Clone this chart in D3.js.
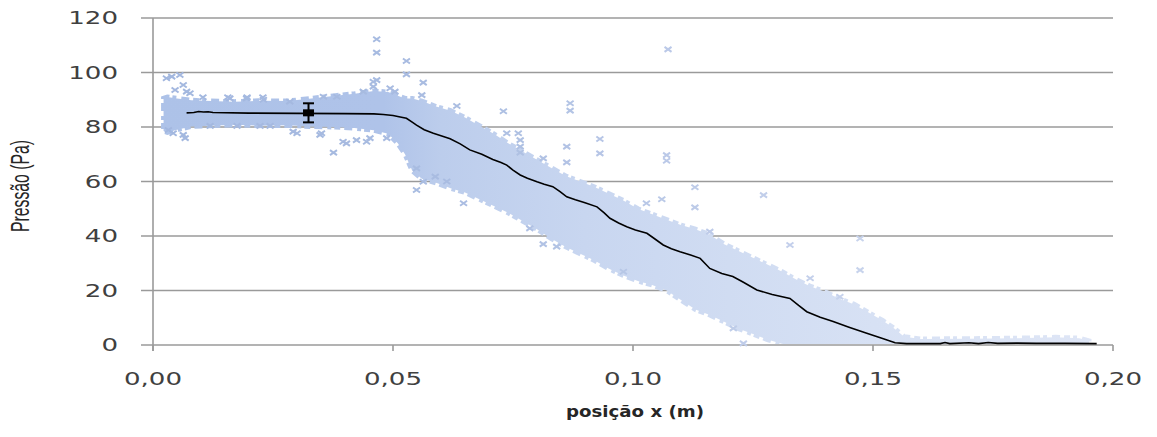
<!DOCTYPE html>
<html>
<head>
<meta charset="utf-8">
<script src="https://cdn.jsdelivr.net/npm/d3@7"></script>
<style>
  html, body { margin: 0; padding: 0; background: #ffffff; }
  svg { display: block; }
</style>
</head>
<body>
<svg id="chart" width="1157" height="437"></svg>
<script>
// Axis ticks
const xTicks = [0, 0.05, 0.10, 0.15, 0.20];
const yTicks = [0, 20, 40, 60, 80, 100, 120];

// Mean pressure profile along x (m) -> Pa
const meanX = [0.0070, 0.0085, 0.0095, 0.0105, 0.0115, 0.0125, 0.0200, 0.0300, 0.0400, 0.0460,
  0.0480, 0.0500, 0.0515, 0.0528, 0.0540, 0.0549, 0.0565, 0.0584, 0.0600, 0.0619,
  0.0640, 0.0660, 0.0685, 0.0708, 0.0725, 0.0737, 0.0750, 0.0765, 0.0780, 0.0800,
  0.0815, 0.0833, 0.0848, 0.0862, 0.0880, 0.0900, 0.0925, 0.0940, 0.0952, 0.0970,
  0.0987, 0.1005, 0.1029, 0.1045, 0.1063, 0.1080, 0.1098, 0.1120, 0.1140, 0.1160,
  0.1185, 0.1208, 0.1230, 0.1258, 0.1290, 0.1327, 0.1345, 0.1362, 0.1390, 0.1417,
  0.1450, 0.1487, 0.1520, 0.1546, 0.1570, 0.1640, 0.1650, 0.1660, 0.1700, 0.1720,
  0.1740, 0.1760, 0.1800, 0.1840, 0.1900, 0.1966];
const meanY = [85.2, 85.3, 85.7, 85.5, 85.6, 85.3, 85.1, 85.0, 84.9, 84.8,
  84.6, 84.2, 83.7, 83.2, 81.8, 80.7, 79.0, 77.7, 76.8, 75.7,
  73.8, 71.6, 70.0, 68.1, 67.0, 66.0, 64.2, 62.4, 61.2, 59.9,
  59.0, 58.1, 56.3, 54.4, 53.3, 52.2, 50.7, 48.5, 46.5, 44.8,
  43.4, 42.2, 41.0, 39.0, 36.7, 35.3, 34.2, 33.0, 31.8, 28.1,
  26.2, 25.1, 23.0, 20.2, 18.5, 17.1, 14.5, 12.2, 10.2, 8.6,
  6.5, 4.3, 2.4, 0.8, 0.5, 0.5, 0.9, 0.5, 0.8, 0.5,
  0.9, 0.6, 0.7, 0.6, 0.6, 0.5];

// Dense body of the measured samples: upper and lower limits along x
const cloudX = [0.0022, 0.0030, 0.0050, 0.0080, 0.0120, 0.0170, 0.0220, 0.0280, 0.0330, 0.0380,
  0.0420, 0.0460, 0.0490, 0.0510, 0.0525, 0.0540, 0.0560, 0.0590, 0.0620, 0.0650,
  0.0680, 0.0710, 0.0740, 0.0770, 0.0800, 0.0830, 0.0860, 0.0890, 0.0920, 0.0950,
  0.0980, 0.1010, 0.1040, 0.1070, 0.1100, 0.1130, 0.1160, 0.1190, 0.1220, 0.1250,
  0.1280, 0.1310, 0.1340, 0.1370, 0.1400, 0.1430, 0.1460, 0.1490, 0.1520, 0.1545,
  0.1565, 0.1600, 0.1700, 0.1800, 0.1880, 0.1930, 0.1950];
const cloudTop = [90.5, 91.0, 90.5, 89.8, 89.5, 89.3, 89.6, 89.5, 90.5, 91.5,
  92.2, 93.2, 92.8, 91.5, 90.5, 90.5, 89.5, 87.5, 86.0, 83.5,
  80.5, 77.5, 74.0, 71.0, 68.0, 65.0, 62.0, 60.0, 58.0, 55.5,
  53.0, 50.0, 48.0, 46.0, 44.0, 42.5, 40.5, 37.0, 34.5, 32.0,
  29.5, 27.0, 24.0, 21.5, 19.5, 17.0, 15.0, 12.0, 9.0, 6.0,
  3.0, 2.2, 2.3, 2.5, 2.8, 2.5, 1.5];
const cloudBottom = [78.5, 78.0, 79.0, 80.2, 80.5, 80.8, 80.5, 80.6, 80.2, 80.0,
  79.6, 78.8, 77.5, 74.0, 70.0, 64.0, 61.0, 59.5, 57.5, 56.0,
  53.5, 51.0, 48.5, 45.5, 42.5, 39.0, 36.0, 33.5, 31.0, 28.0,
  25.5, 23.5, 22.0, 20.0, 16.5, 13.0, 11.0, 8.5, 6.0, 4.0,
  2.0, 0.5, 0, 0, 0, 0, 0, 0, 0, 0,
  0, 0, 0, 0, 0, 0, 0];

// Individual samples lying off the dense body
const sparseX = [0.0028, 0.0039, 0.0056, 0.0063, 0.0046, 0.0070, 0.0077, 0.0032, 0.0042, 0.0063,
  0.0067, 0.0104, 0.0156, 0.0196, 0.0229, 0.0119, 0.0175, 0.0223, 0.0244, 0.0285,
  0.0355, 0.0383, 0.0438, 0.0466, 0.0459, 0.0459, 0.0494, 0.0504, 0.0466, 0.0466,
  0.0528, 0.0528, 0.0563, 0.0560, 0.0292, 0.0300, 0.0348, 0.0351, 0.0396, 0.0376,
  0.0403, 0.0424, 0.0445, 0.0452, 0.0487, 0.0549, 0.0549, 0.0563, 0.0588, 0.0612,
  0.0633, 0.0647, 0.0730, 0.0737, 0.0761, 0.0765, 0.0765, 0.0765, 0.0785, 0.0813,
  0.0813, 0.0841, 0.0862, 0.0862, 0.0869, 0.0869, 0.0931, 0.0931, 0.0980, 0.1028,
  0.1060, 0.1070, 0.1070, 0.1073, 0.1129, 0.1129, 0.1160, 0.1209, 0.1230, 0.1272,
  0.1327, 0.1369, 0.1431, 0.1473, 0.1473, 0.0160, 0.0195, 0.0230];
const sparseY = [97.9, 98.5, 99.1, 95.4, 93.6, 93.0, 92.4, 78.9, 77.7, 77.1,
  75.9, 90.9, 90.9, 90.9, 90.9, 80.4, 80.4, 80.4, 80.4, 89.3,
  91.1, 91.1, 93.0, 97.2, 96.6, 94.8, 94.2, 93.0, 112.2, 107.3,
  104.2, 99.3, 96.3, 91.7, 78.3, 77.7, 77.1, 77.7, 74.6, 70.6,
  74.0, 75.2, 74.6, 75.9, 75.9, 56.9, 64.8, 59.9, 61.8, 60.0,
  87.7, 52.0, 85.8, 77.7, 77.7, 75.2, 72.8, 70.6, 42.8, 68.5,
  37.0, 36.1, 72.8, 67.0, 88.7, 86.0, 75.6, 70.3, 26.9, 52.0,
  53.5, 69.7, 67.6, 108.5, 57.9, 50.5, 41.6, 6.1, 0.6, 55.0,
  36.7, 24.5, 17.7, 39.1, 27.5, 90.5, 90.5, 90.0];

// Error bar on the mean profile
const errX = [0.0324];
const errMean = [85.2];
const errHalf = [3.5];

const svg = d3.select("#chart");
const margin = { left: 153, right: 44, top: 18, bottom: 92 };
const W = 1157, H = 437;

const x = d3.scaleLinear().domain([0, 0.20]).range([margin.left, W - margin.right]);
const y = d3.scaleLinear().domain([0, 120]).range([H - margin.bottom, margin.top]);

const sx = 1.45; // horizontal glyph stretch of the chart text
const fmtX = d => d3.format(".2f")(d).replace(".", ",");

// Horizontal gridlines (extended left as the y-axis ticks)
svg.append("g")
  .selectAll("line")
  .data(yTicks)
  .join("line")
  .attr("x1", margin.left - 12)
  .attr("x2", x(0.20))
  .attr("y1", d => y(d))
  .attr("y2", d => y(d))
  .attr("stroke", "#9a9a9a")
  .attr("stroke-width", 1.6);

// Vertical axis line
svg.append("line")
  .attr("x1", x(0)).attr("x2", x(0))
  .attr("y1", y(120)).attr("y2", y(0) + 6)
  .attr("stroke", "#9a9a9a").attr("stroke-width", 1.6);

// X-axis ticks
svg.append("g")
  .selectAll("line")
  .data(xTicks)
  .join("line")
  .attr("x1", d => x(d)).attr("x2", d => x(d))
  .attr("y1", y(0)).attr("y2", y(0) + 6)
  .attr("stroke", "#9a9a9a").attr("stroke-width", 1.6);

// Sample cloud fill, fading towards larger x
const defs = svg.append("defs");
const grad = defs.append("linearGradient")
  .attr("id", "cloudFill")
  .attr("gradientUnits", "userSpaceOnUse")
  .attr("x1", x(0)).attr("x2", x(0.20)).attr("y1", 0).attr("y2", 0);
[[0, "#adc2e8"], [0.24, "#afc3e9"], [0.3, "#bccdec"], [0.45, "#c8d6f0"],
 [0.6, "#d0dcf2"], [0.75, "#d7e1f4"], [1, "#dfe6f6"]].forEach(([o, c]) =>
  grad.append("stop").attr("offset", o).attr("stop-color", c));

// Keep the cloud rim above the horizontal axis
defs.append("clipPath")
  .attr("id", "plotClip")
  .append("rect")
  .attr("x", x(0)).attr("y", 0)
  .attr("width", x(0.20) - x(0))
  .attr("height", y(0) - 1);

const cloud = cloudX.map((d, i) => ({ x: d, top: cloudTop[i], bottom: cloudBottom[i] }));
const cloudArea = d3.area()
  .x(d => x(d.x))
  .y0(d => y(d.bottom))
  .y1(d => y(d.top));
const cloudG = svg.append("g").attr("clip-path", "url(#plotClip)");
cloudG.append("path")
  .datum(cloud)
  .attr("d", cloudArea)
  .attr("fill", "url(#cloudFill)");
// Blocky, broken rim so the body edge reads as clustered markers
cloudG.append("path")
  .datum(cloud)
  .attr("d", cloudArea)
  .attr("fill", "none")
  .attr("stroke", "url(#cloudFill)")
  .attr("stroke-width", 5)
  .attr("stroke-dasharray", "6 3 4 5 8 4")
  .attr("stroke-linejoin", "miter");

// Off-body samples drawn as small x markers
const markColor = d3.scaleLinear()
  .domain([0, 0.06, 0.11, 0.16])
  .range(["#a2b7df", "#a9bce1", "#bccae8", "#cbd6ee"]);
const sparse = sparseX.map((d, i) => ({ x: d, y: sparseY[i] }));
svg.append("g")
  .selectAll("path")
  .data(sparse)
  .join("path")
  .attr("transform", d => `translate(${x(d.x)},${y(d.y)})`)
  .attr("d", "M-3.5,-2.5L3.5,2.5M-3.5,2.5L3.5,-2.5")
  .attr("stroke", d => markColor(d.x))
  .attr("stroke-width", 2)
  .attr("fill", "none");

// Mean profile line
const mean = meanX.map((d, i) => ({ x: d, y: meanY[i] }));
svg.append("path")
  .datum(mean)
  .attr("d", d3.line().x(d => x(d.x)).y(d => y(d.y)))
  .attr("fill", "none")
  .attr("stroke", "#000000")
  .attr("stroke-width", 1.6);

// Error bar with square marker
const err = errX.map((d, i) => ({ x: d, m: errMean[i], h: errHalf[i] }));
const eg = svg.append("g").selectAll("g").data(err).join("g");
eg.append("line")
  .attr("x1", d => x(d.x)).attr("x2", d => x(d.x))
  .attr("y1", d => y(d.m + d.h)).attr("y2", d => y(d.m - d.h))
  .attr("stroke", "#000").attr("stroke-width", 2);
eg.selectAll("line.cap")
  .data(d => [[d.x, d.m + d.h], [d.x, d.m - d.h]])
  .join("line")
  .attr("class", "cap")
  .attr("x1", d => x(d[0]) - 5.5).attr("x2", d => x(d[0]) + 5.5)
  .attr("y1", d => y(d[1])).attr("y2", d => y(d[1]))
  .attr("stroke", "#000").attr("stroke-width", 2);
eg.append("rect")
  .attr("x", d => x(d.x) - 5.5).attr("y", d => y(d.m) - 3.5)
  .attr("width", 11).attr("height", 7)
  .attr("fill", "#000");

// Tick labels
svg.append("g")
  .selectAll("text")
  .data(yTicks)
  .join("text")
  .attr("transform", d => `translate(118,${y(d)}) scale(${sx},1)`)
  .attr("dy", "0.36em")
  .attr("text-anchor", "end")
  .attr("font-family", "DejaVu Sans, Verdana, sans-serif")
  .attr("font-size", 18)
  .attr("fill", "#404040")
  .text(d => d);

svg.append("g")
  .selectAll("text")
  .data(xTicks)
  .join("text")
  .attr("transform", d => `translate(${x(d)},385) scale(${sx},1)`)
  .attr("text-anchor", "middle")
  .attr("font-family", "DejaVu Sans, Verdana, sans-serif")
  .attr("font-size", 18)
  .attr("fill", "#404040")
  .text(fmtX);

// Axis titles
svg.append("text")
  .attr("transform", `translate(29,186) scale(${sx},1) rotate(-90)`)
  .attr("text-anchor", "middle")
  .attr("font-family", "Liberation Sans Narrow, Liberation Sans, Arial, sans-serif")
  .attr("font-size", 18)
  .attr("textLength", 92)
  .attr("lengthAdjust", "spacingAndGlyphs")
  .attr("fill", "#262626")
  .text("Pressão (Pa)");

svg.append("text")
  .attr("x", 635).attr("y", 417)
  .attr("text-anchor", "middle")
  .attr("font-family", "DejaVu Sans, Verdana, sans-serif")
  .attr("font-weight", "bold")
  .attr("font-size", 16)
  .attr("textLength", 138)
  .attr("lengthAdjust", "spacingAndGlyphs")
  .attr("fill", "#262626")
  .text("posição x (m)");
</script>
</body>
</html>
